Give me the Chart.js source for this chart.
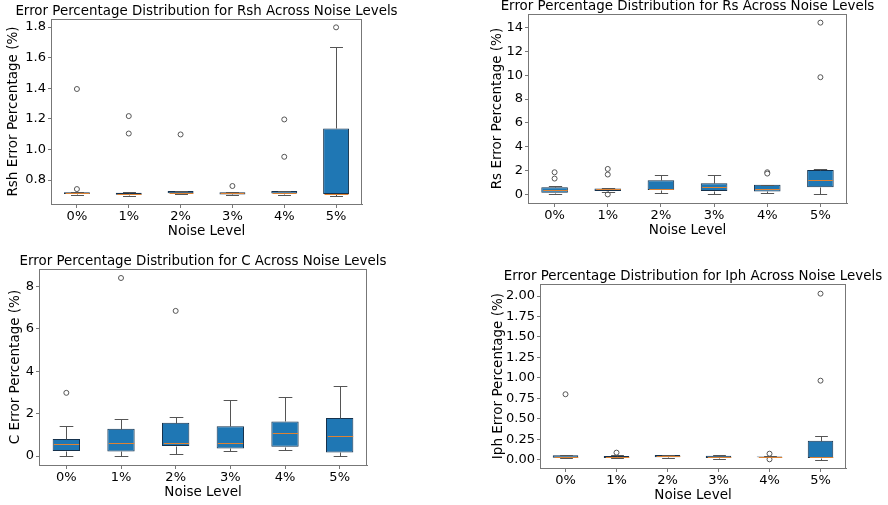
<!DOCTYPE html>
<html>
<head>
<meta charset="utf-8">
<script src="https://cdn.jsdelivr.net/npm/chart.js@4.4.1/dist/chart.umd.min.js"></script>
<style>
  html, body { margin:0; padding:0; background:#fff; }
  #wrap { position:relative; width:888px; height:505px; overflow:hidden; background:#fff; }
  canvas { position:absolute; }
</style>
</head>
<body>
<div id="wrap">
  <canvas id="cRsh"></canvas>
  <canvas id="cRs"></canvas>
  <canvas id="cC"></canvas>
  <canvas id="cIph"></canvas>
</div>
<script>
// categorie
const NOISE_LEVELS = ["0%", "1%", "2%", "3%", "4%", "5%"];

// Rsh
const RSH_Q1  = [0.708, 0.704, 0.713, 0.706, 0.712, 0.709];
const RSH_MED = [0.714, 0.709, 0.718, 0.714, 0.715, 0.710];
const RSH_Q3  = [0.720, 0.717, 0.729, 0.721, 0.729, 1.137];
const RSH_LO  = [0.700, 0.698, 0.711, 0.700, 0.702, 0.698];
const RSH_HI  = [0.725, 0.720, 0.731, 0.724, 0.730, 1.667];
const RSH_OUT = [[1.395, 0.741], [1.218, 1.104], [1.098], [0.761], [1.196, 0.952], [1.798]];
const RSH_TICKS = [0.8, 1.0, 1.2, 1.4, 1.6, 1.8];

// Rs
const RS_Q1  = [0.14, 0.28, 0.36, 0.28, 0.25, 0.61];
const RS_MED = [0.33, 0.42, 0.44, 0.64, 0.47, 1.25];
const RS_Q3  = [0.61, 0.50, 1.19, 0.94, 0.81, 2.06];
const RS_LO  = [0.00, 0.24, 0.08, 0.00, 0.11, 0.00];
const RS_HI  = [0.67, 0.58, 1.64, 1.61, 0.83, 2.14];
const RS_OUT = [[1.86, 1.33], [2.14, 1.67, 0.0], [], [], [1.86, 1.75], [14.42, 9.84]];
const RS_TICKS = [0, 2, 4, 6, 8, 10, 12, 14];

// C
const C_Q1  = [0.235, 0.22, 0.47, 0.36, 0.44, 0.17];
const C_MED = [0.55, 0.61, 0.60, 0.61, 1.11, 0.93];
const C_Q3  = [0.80, 1.29, 1.57, 1.40, 1.63, 1.80];
const C_LO  = [0.00, 0.00, 0.08, 0.22, 0.28, 0.00];
const C_HI  = [1.40, 1.74, 1.82, 2.62, 2.76, 3.29];
const C_OUT = [[2.98], [8.39], [6.84], [], [], []];
const C_TICKS = [0, 2, 4, 6, 8];

// Iph
const IPH_Q1  = [0.024, 0.020, 0.028, 0.020, 0.030, 0.020];
const IPH_MED = [0.033, 0.028, 0.040, 0.037, 0.035, 0.037];
const IPH_Q3  = [0.053, 0.045, 0.057, 0.049, 0.040, 0.232];
const IPH_LO  = [0.016, 0.015, 0.020, 0.012, 0.027, 0.000];
const IPH_HI  = [0.061, 0.060, 0.060, 0.057, 0.044, 0.285];
const IPH_OUT = [[0.80], [0.086], [], [], [0.073, 0.004], [2.03, 0.966]];
const IPH_TICKS = [0, 0.25, 0.5, 0.75, 1.0, 1.25, 1.5, 1.75, 2.0];

Chart.defaults.font.family = "'DejaVu Sans', sans-serif";
Chart.defaults.color = "#000";
Chart.defaults.animation = false;

const FRAME = "#777";
const BOX_FILL = "#1f77b4";
const BOX_EDGE = "#16324d";
const WHISK = "#555";
const MEDIAN = "#dd8233";
const TITLE_SIZE = 13.4;

// baffi, cappucci e mediane disegnati sopra le barre
function whiskerPlugin(st){
  return {
    id: "whiskers",
    afterDatasetsDraw(chart){
      const x = chart.scales.x, y = chart.scales.y;
      const meta = chart.getDatasetMeta(1);
      const ctx = chart.ctx;
      ctx.save();
      ctx.lineWidth = 1;
      NOISE_LEVELS.forEach((lab, i) => {
        const bw = meta.data[i].width;
        const cx = Math.round(x.getPixelForValue(i)) + 0.5;
        const py = v => Math.round(y.getPixelForValue(v)) + 0.5;
        ctx.strokeStyle = WHISK;
        ctx.beginPath();
        ctx.moveTo(cx, py(st.q1[i])); ctx.lineTo(cx, py(st.lo[i]));
        ctx.moveTo(cx, py(st.q3[i])); ctx.lineTo(cx, py(st.hi[i]));
        ctx.moveTo(cx - bw/4, py(st.lo[i])); ctx.lineTo(cx + bw/4, py(st.lo[i]));
        ctx.moveTo(cx - bw/4, py(st.hi[i])); ctx.lineTo(cx + bw/4, py(st.hi[i]));
        ctx.stroke();
        ctx.strokeStyle = MEDIAN;
        ctx.beginPath();
        ctx.moveTo(cx - bw/2 + 1, py(st.med[i])); ctx.lineTo(cx + bw/2 - 1, py(st.med[i]));
        ctx.stroke();
      });
      ctx.restore();
    }
  };
}

const framePlugin = {
  id: "frame",
  afterDraw(chart){
    const a = chart.chartArea, ctx = chart.ctx;
    ctx.save();
    ctx.strokeStyle = FRAME;
    ctx.lineWidth = 1;
    ctx.strokeRect(Math.round(a.left) + 0.5, Math.round(a.top) + 0.5,
                   Math.round(a.right - a.left) - 1, Math.round(a.bottom - a.top));
    ctx.restore();
  }
};

function makePanel(p){
  const canvas = document.getElementById(p.id);
  const yW = p.plot.l - (p.yTitleX - 8);
  const plotW = p.plot.r - p.plot.l, plotH = p.plot.b - p.plot.t;
  const titleH = TITLE_SIZE * 1.2 + 1, xH = 36;
  canvas.width = plotW + 2*yW;
  canvas.height = Math.round(titleH + plotH + xH);
  canvas.style.left = (p.plot.l - yW) + "px";
  canvas.style.top = Math.round(p.plot.t - titleH) + "px";

  const outliers = p.out.flatMap((arr, i) => arr.map(v => ({ x: NOISE_LEVELS[i], y: v })));
  const boxes = p.q1.map((v, i) => [v, p.q3[i]]);

  return new Chart(canvas.getContext("2d"), {
    type: "bar",
    data: {
      labels: NOISE_LEVELS,
      datasets: [
        { type: "line", data: outliers, showLine: false, pointRadius: 2.5,
          pointBorderWidth: 1, pointBorderColor: WHISK, pointBackgroundColor: "#fff",
          pointHoverRadius: 2.5, clip: false },
        { type: "bar", data: boxes, backgroundColor: BOX_FILL, borderColor: BOX_EDGE,
          borderWidth: 1, borderSkipped: false, barPercentage: 0.5, categoryPercentage: 1.0 }
      ]
    },
    options: {
      responsive: false,
      devicePixelRatio: 1,
      events: [],
      layout: { padding: 0 },
      plugins: {
        legend: { display: false },
        tooltip: { enabled: false },
        title: { display: true, text: p.title, color: "#000",
          font: { size: TITLE_SIZE, weight: "normal", lineHeight: 1.2 }, padding: { top: 1, bottom: 0 } }
      },
      scales: {
        x: {
          offset: true,
          grid: { display: true, drawOnChartArea: false, drawTicks: true, tickLength: 4, color: FRAME, offset: false },
          border: { display: true, color: FRAME },
          ticks: { font: { size: 13 }, padding: 1, maxRotation: 0 },
          title: { display: true, text: "Noise Level", font: { size: 13.5 }, padding: 0 },
          afterFit: s => { s.height = xH; }
        },
        y: {
          position: "left",
          min: p.yMin, max: p.yMax,
          grid: { display: true, drawOnChartArea: false, drawTicks: true, tickLength: 3, color: FRAME },
          border: { display: true, color: FRAME },
          ticks: { font: { size: 13 }, padding: 2, callback: v => Number(v).toFixed(p.dec) },
          afterBuildTicks: s => { s.ticks = p.ticks.map(v => ({ value: v })); },
          title: { display: true, text: p.yLabel, font: { size: 13.5 }, padding: 0 },
          afterFit: s => { s.width = yW; }
        },
        yPad: {
          type: "linear", position: "right", display: true,
          grid: { display: false }, border: { display: false },
          ticks: { display: false },
          afterFit: s => { s.width = yW; }
        }
      }
    },
    plugins: [whiskerPlugin(p), framePlugin]
  });
}

makePanel({ id: "cRsh", plot: { l: 51, t: 19, r: 362, b: 204 }, yTitleX: 13,
  title: "Error Percentage Distribution for Rsh Across Noise Levels",
  yLabel: "Rsh Error Percentage (%)", yMin: 0.6434, yMax: 1.852, ticks: RSH_TICKS, dec: 1,
  q1: RSH_Q1, med: RSH_MED, q3: RSH_Q3, lo: RSH_LO, hi: RSH_HI, out: RSH_OUT });

makePanel({ id: "cRs", plot: { l: 528, t: 14, r: 847, b: 203 }, yTitleX: 497,
  title: "Error Percentage Distribution for Rs Across Noise Levels",
  yLabel: "Rs Error Percentage (%)", yMin: -0.721, yMax: 15.14, ticks: RS_TICKS, dec: 0,
  q1: RS_Q1, med: RS_MED, q3: RS_Q3, lo: RS_LO, hi: RS_HI, out: RS_OUT });

makePanel({ id: "cC", plot: { l: 39, t: 269, r: 367, b: 465 }, yTitleX: 15,
  title: "Error Percentage Distribution for C Across Noise Levels",
  yLabel: "C Error Percentage (%)", yMin: -0.42, yMax: 8.81, ticks: C_TICKS, dec: 0,
  q1: C_Q1, med: C_MED, q3: C_Q3, lo: C_LO, hi: C_HI, out: C_OUT });

makePanel({ id: "cIph", plot: { l: 540, t: 284, r: 846, b: 468 }, yTitleX: 498,
  title: "Error Percentage Distribution for Iph Across Noise Levels",
  yLabel: "Iph Error Percentage (%)", yMin: -0.102, yMax: 2.147, ticks: IPH_TICKS, dec: 2,
  q1: IPH_Q1, med: IPH_MED, q3: IPH_Q3, lo: IPH_LO, hi: IPH_HI, out: IPH_OUT });
</script>
</body>
</html>
